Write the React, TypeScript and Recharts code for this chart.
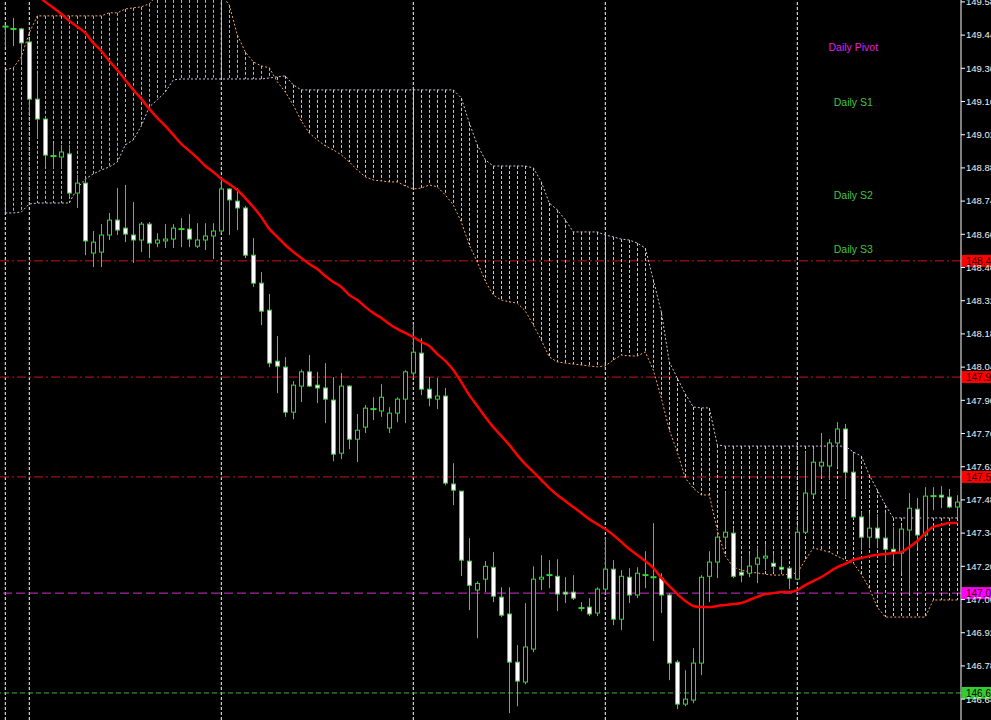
import React from "react";
import { ComposedChart, Bar, Line, XAxis, YAxis, ReferenceLine, ReferenceDot } from "recharts";

// USDJPY-style intraday candles (bar index 0..119)
const opens = [
  149.476, 149.466, 149.466, 149.411, 149.170, 149.086, 148.930, 148.926, 148.939, 148.774,
  148.816, 148.521, 148.525, 148.597, 148.660, 148.626, 148.597, 148.576, 148.643, 148.563,
  148.572, 148.580, 148.620, 148.622, 148.550, 148.576, 148.593, 148.614, 148.791, 148.740,
  148.711, 148.512, 148.394, 148.280, 148.065, 148.040, 147.850, 147.960, 148.020, 147.964,
  147.952, 147.901, 147.677, 147.960, 147.736, 147.787, 147.863, 147.855, 147.783, 147.846,
  147.905, 148.015, 148.099, 147.947, 147.905, 147.918, 147.547, 147.517, 147.222, 147.100,
  147.146, 147.196, 147.070, 146.999, 146.796, 146.712, 146.851, 147.146, 147.158, 147.158,
  147.091, 147.091, 147.024, 147.028, 147.003, 147.104, 147.188, 146.977, 147.154, 147.079,
  147.163, 147.154, 147.150, 147.079, 146.796, 146.619, 146.636, 146.792, 147.158, 147.218,
  147.323, 147.340, 147.175, 147.171, 147.209, 147.235, 147.213, 147.196, 147.192, 147.146,
  147.344, 147.505, 147.623, 147.623, 147.720, 147.779, 147.597, 147.408, 147.323, 147.361,
  147.319, 147.272, 147.256, 147.353, 147.441, 147.332, 147.496, 147.500, 147.492, 147.450,
];
const highs = [
  149.483, 149.512, 149.470, 149.420, 149.280, 149.095, 148.981, 148.977, 148.977, 148.850,
  148.837, 148.614, 148.643, 148.690, 148.795, 148.808, 148.736, 148.652, 148.652, 148.605,
  148.643, 148.643, 148.668, 148.685, 148.647, 148.647, 148.647, 148.833, 148.795, 148.795,
  148.720, 148.584, 148.441, 148.348, 148.171, 148.082, 147.981, 148.030, 148.091, 148.020,
  148.057, 147.998, 148.015, 147.964, 147.842, 147.880, 147.913, 147.968, 147.871, 147.913,
  148.027, 148.221, 148.162, 147.998, 147.994, 147.952, 147.635, 147.517, 147.319, 147.137,
  147.222, 147.260, 147.112, 147.112, 146.868, 147.045, 147.200, 147.247, 147.226, 147.230,
  147.154, 147.163, 147.049, 147.066, 147.112, 147.323, 147.226, 147.184, 147.192, 147.196,
  147.264, 147.382, 147.171, 147.087, 146.805, 146.762, 146.855, 147.163, 147.264, 147.344,
  147.513, 147.361, 147.235, 147.255, 147.281, 147.293, 147.255, 147.238, 147.200, 147.374,
  147.682, 147.694, 147.762, 147.737, 147.808, 147.800, 147.678, 147.429, 147.425, 147.420,
  147.425, 147.365, 147.374, 147.509, 147.488, 147.534, 147.534, 147.538, 147.526, 147.500,
];
const lows = [
  149.390, 149.394, 149.322, 149.110, 149.006, 148.884, 148.880, 148.880, 148.757, 148.711,
  148.512, 148.462, 148.462, 148.576, 148.597, 148.567, 148.479, 148.525, 148.500, 148.546,
  148.542, 148.542, 148.546, 148.546, 148.542, 148.534, 148.496, 148.605, 148.597, 148.618,
  148.500, 148.378, 148.217, 148.040, 147.930, 147.830, 147.820, 147.893, 147.956, 147.888,
  147.804, 147.643, 147.652, 147.694, 147.640, 147.762, 147.817, 147.830, 147.762, 147.808,
  147.804, 147.998, 147.922, 147.875, 147.863, 147.542, 147.458, 147.159, 147.015, 146.897,
  147.091, 147.049, 146.986, 146.581, 146.610, 146.703, 146.838, 147.100, 147.108, 147.011,
  147.045, 147.058, 147.011, 146.990, 146.990, 147.087, 146.952, 146.931, 147.045, 147.066,
  147.108, 146.885, 147.003, 146.720, 146.598, 146.610, 146.623, 146.741, 147.049, 147.150,
  147.281, 147.150, 147.133, 147.154, 147.129, 147.184, 147.175, 147.171, 147.104, 147.142,
  147.340, 147.496, 147.576, 147.564, 147.618, 147.488, 147.403, 147.268, 147.281, 147.281,
  147.213, 147.213, 147.171, 147.087, 147.277, 147.323, 147.437, 147.445, 147.445, 147.403,
];
const closes = [
  149.476, 149.466, 149.407, 149.170, 149.086, 148.934, 148.930, 148.947, 148.774, 148.816,
  148.572, 148.567, 148.597, 148.660, 148.618, 148.601, 148.576, 148.643, 148.563, 148.576,
  148.580, 148.626, 148.622, 148.580, 148.576, 148.593, 148.614, 148.791, 148.745, 148.711,
  148.512, 148.394, 148.276, 148.057, 148.044, 147.850, 147.964, 148.020, 147.960, 147.952,
  147.905, 147.673, 147.960, 147.736, 147.774, 147.867, 147.863, 147.913, 147.846, 147.905,
  148.020, 148.103, 147.947, 147.909, 147.918, 147.551, 147.521, 147.226, 147.120, 147.128,
  147.200, 147.074, 146.994, 146.796, 146.716, 146.860, 147.146, 147.154, 147.163, 147.083,
  147.083, 147.066, 147.024, 146.999, 147.104, 147.188, 146.977, 147.158, 147.079, 147.171,
  147.163, 147.154, 147.079, 146.792, 146.619, 146.640, 146.792, 147.154, 147.218, 147.323,
  147.344, 147.158, 147.163, 147.201, 147.235, 147.243, 147.200, 147.188, 147.150, 147.344,
  147.509, 147.639, 147.639, 147.720, 147.779, 147.597, 147.408, 147.323, 147.361, 147.319,
  147.272, 147.260, 147.357, 147.445, 147.332, 147.496, 147.496, 147.492, 147.450, 147.471,
];

// moving average (red)
const ma = [
  149.715, 149.690, 149.660, 149.635, 149.609, 149.580, 149.555, 149.529, 149.500, 149.475,
  149.449, 149.407, 149.373, 149.331, 149.293, 149.251, 149.209, 149.171, 149.129, 149.091,
  149.057, 149.019, 148.981, 148.952, 148.922, 148.888, 148.863, 148.834, 148.812, 148.787,
  148.753, 148.715, 148.673, 148.623, 148.589, 148.555, 148.526, 148.500, 148.475, 148.454,
  148.424, 148.399, 148.378, 148.344, 148.323, 148.294, 148.268, 148.247, 148.222, 148.201,
  148.184, 148.167, 148.146, 148.129, 148.095, 148.066, 148.028, 147.977, 147.922, 147.876,
  147.830, 147.787, 147.750, 147.712, 147.669, 147.631, 147.598, 147.564, 147.530, 147.501,
  147.475, 147.450, 147.425, 147.399, 147.378, 147.357, 147.332, 147.303, 147.273, 147.248,
  147.222, 147.193, 147.151, 147.117, 147.083, 147.054, 147.033, 147.028, 147.028, 147.033,
  147.037, 147.041, 147.045, 147.058, 147.071, 147.083, 147.087, 147.092, 147.092, 147.100,
  147.121, 147.138, 147.155, 147.176, 147.197, 147.210, 147.227, 147.235, 147.243, 147.248,
  147.252, 147.256, 147.260, 147.281, 147.307, 147.340, 147.366, 147.374, 147.383, 147.383,
];

// ichimoku senkou spans
const spanA = [
  149.293, 149.302, 149.348, 149.449, 149.521, 149.521, 149.521, 149.521, 149.521, 149.521,
  149.521, 149.521, 149.521, 149.534, 149.534, 149.550, 149.555, 149.559, 149.572, 149.609,
  149.673, 149.715, 149.736, 149.736, 149.715, 149.673, 149.631, 149.609, 149.567, 149.441,
  149.369, 149.327, 149.310, 149.302, 149.243, 149.200, 149.145, 149.078, 149.027, 148.998,
  148.973, 148.956, 148.935, 148.905, 148.871, 148.842, 148.829, 148.825, 148.821, 148.821,
  148.804, 148.791, 148.795, 148.808, 148.800, 148.766, 148.724, 148.652, 148.555, 148.483,
  148.403, 148.344, 148.323, 148.315, 148.310, 148.277, 148.218, 148.154, 148.083, 148.062,
  148.057, 148.053, 148.049, 148.045, 148.041, 148.045, 148.070, 148.091, 148.087, 148.087,
  148.104, 148.028, 147.910, 147.775, 147.682, 147.572, 147.530, 147.501, 147.501, 147.353,
  147.243, 147.197, 147.184, 147.176, 147.172, 147.167, 147.163, 147.163, 147.167, 147.172,
  147.227, 147.277, 147.269, 147.260, 147.243, 147.227, 147.214, 147.167, 147.108, 147.028,
  146.986, 146.986, 146.986, 146.986, 146.986, 146.986, 147.058, 147.058, 147.058, 147.058,
];
const spanB = [
  148.690, 148.690, 148.694, 148.728, 148.732, 148.732, 148.732, 148.732, 148.732, 148.795,
  148.833, 148.855, 148.871, 148.884, 148.905, 148.977, 148.998, 149.057, 149.137, 149.167,
  149.200, 149.251, 149.255, 149.255, 149.255, 149.255, 149.255, 149.255, 149.255, 149.255,
  149.255, 149.255, 149.255, 149.259, 149.264, 149.268, 149.230, 149.209, 149.209, 149.209,
  149.209, 149.209, 149.209, 149.209, 149.209, 149.209, 149.209, 149.209, 149.209, 149.209,
  149.209, 149.209, 149.209, 149.209, 149.209, 149.209, 149.209, 149.175, 149.070, 148.977,
  148.914, 148.888, 148.888, 148.888, 148.888, 148.888, 148.880, 148.821, 148.732, 148.703,
  148.661, 148.610, 148.610, 148.610, 148.610, 148.597, 148.589, 148.580, 148.576, 148.563,
  148.542, 148.408, 148.273, 148.062, 147.994, 147.927, 147.872, 147.868, 147.868, 147.712,
  147.707, 147.707, 147.707, 147.707, 147.707, 147.707, 147.707, 147.707, 147.707, 147.707,
  147.707, 147.707, 147.707, 147.707, 147.707, 147.707, 147.682, 147.665, 147.585, 147.522,
  147.459, 147.404, 147.404, 147.404, 147.404, 147.404, 147.404, 147.404, 147.404, 147.404,
];

const priceTicks = [
  149.58, 149.44, 149.3, 149.16, 149.02, 148.88, 148.74, 148.6, 148.46, 148.32, 148.18,
  148.04, 147.9, 147.76, 147.62, 147.48, 147.34, 147.2, 147.06, 146.92, 146.78, 146.64,
];
const gridBars = [0, 3, 27, 51, 75, 99];

// horizontal levels: three resistance lines, pivot line, support line
const levelPrices = [148.488, 147.998, 147.577, 147.087, 146.666];
const pivotNames = ["Daily Pivot", "Daily S1", "Daily S2", "Daily S3"];
const pivotPrices = [149.39, 149.158, 148.766, 148.538];

const GREEN = "#33d633";
const SANDY = "#f4a460";
const THISTLE = "#d8bfd8";

const levelStyles = [
  { stroke: "#c81818", dash: "9 3 2 3", tag: "#ff0000" },
  { stroke: "#c81818", dash: "9 3 2 3", tag: "#ff0000" },
  { stroke: "#c81818", dash: "9 3 2 3", tag: "#ff0000" },
  { stroke: "#cc33cc", dash: "9 4", tag: "#ff00ff" },
  { stroke: "#3cb83c", dash: "5 3", tag: "#33cc33" },
];
const pivotColors = ["#e020e0", "#44c444", "#44c444", "#44c444"];

const rows = opens.map((o, i) => ({
  i,
  open: o,
  high: highs[i],
  low: lows[i],
  close: closes[i],
  ma: ma[i],
  spanA: spanA[i],
  spanB: spanB[i],
  // cloud split by which span is on top
  up: spanA[i] >= spanB[i] ? [spanB[i], spanA[i]] : null,
  down: spanA[i] < spanB[i] ? [spanA[i], spanB[i]] : null,
}));

function Candle(props: any) {
  const { x, y, width, height, index } = props;
  const open = opens[index], high = highs[index], low = lows[index], close = closes[index];
  const c = Math.round(x + width / 2);
  const span = high - low || 1;
  const toY = (p: number) => y + ((high - p) / span) * height;
  const top = Math.min(toY(open), toY(close));
  const bot = Math.max(toY(open), toY(close));
  const bull = close > open;
  return (
    <g>
      <line x1={c + 0.5} x2={c + 0.5} y1={y} y2={y + height} stroke={GREEN} />
      {bot - top < 1.5 ? (
        <line x1={c - 2.5} x2={c + 3.5} y1={top} y2={top} stroke={GREEN} strokeWidth={2} />
      ) : (
        <rect x={c - 1.5} y={top} width={4} height={bot - top} fill={bull ? "#000" : "#ffffff"} stroke={GREEN} />
      )}
    </g>
  );
}

function Hatch(props: any) {
  const { x, y, width, height, hatch } = props;
  if (height == null || isNaN(height)) return null;
  const c = Math.round(x + width / 2) + 0.5;
  return <line x1={c} x2={c} y1={y} y2={y + height} stroke={hatch} strokeDasharray="3 2" />;
}

function LevelTag(props: any) {
  const { viewBox, bg, text } = props;
  if (!viewBox) return null;
  const x = viewBox.x + viewBox.width + 1;
  const y = viewBox.y;
  return (
    <g>
      <rect x={x} y={y - 6} width={48} height={12} fill={bg} />
      <text x={x + 4} y={y + 4} fontSize={10} fill="#200000">
        {text}
      </text>
    </g>
  );
}

export default function App() {
  const xDomain = [-0.6625, 119.4625];
  return (
    <div
      style={{
        position: "fixed",
        left: 0,
        top: 0,
        width: 991,
        height: 720,
        overflow: "hidden",
        background: "#000",
        fontFamily: '"Liberation Sans", Arial, sans-serif',
      }}
    >
      <ComposedChart width={1010} height={720} data={rows} margin={{ top: 0, right: 0, left: 0, bottom: 0 }}>
        <XAxis dataKey="i" type="number" domain={xDomain} allowDataOverflow hide />
        <XAxis xAxisId="c1" dataKey="i" type="number" domain={xDomain} allowDataOverflow hide />
        <XAxis xAxisId="c2" dataKey="i" type="number" domain={xDomain} allowDataOverflow hide />
        <YAxis
          orientation="right"
          type="number"
          width={49}
          domain={[146.552, 149.588]}
          ticks={priceTicks}
          interval={0}
          allowDataOverflow
          tickFormatter={(v: number) => v.toFixed(2)}
          tick={{ fill: "#f0f0f0", fontSize: 9.5 }}
          tickSize={4}
          tickMargin={1}
          axisLine={{ stroke: "#fff" }}
          tickLine={{ stroke: "#fff" }}
        />

        {gridBars.map((b) => (
          <ReferenceLine key={"g" + b} x={b} stroke="#ffffff" strokeDasharray="3 2" zIndex={-20} />
        ))}
        {levelPrices.map((p, k) => (
          <ReferenceLine
            key={"l" + k}
            y={p}
            stroke={levelStyles[k].stroke}
            strokeDasharray={levelStyles[k].dash}
            zIndex={-10}
            label={<LevelTag bg={levelStyles[k].tag} text={p.toFixed(3)} />}
          />
        ))}

        <Bar xAxisId="c1" dataKey="up" barSize={2} shape={<Hatch hatch={SANDY} />} isAnimationActive={false} zIndex={100} />
        <Bar xAxisId="c2" dataKey="down" barSize={2} shape={<Hatch hatch={THISTLE} />} isAnimationActive={false} zIndex={100} />
        <Line dataKey="spanA" stroke={SANDY} strokeDasharray="2 2" strokeWidth={1} dot={false} activeDot={false} isAnimationActive={false} zIndex={150} />
        <Line dataKey="spanB" stroke={THISTLE} strokeDasharray="2 2" strokeWidth={1} dot={false} activeDot={false} isAnimationActive={false} zIndex={150} />

        <Bar dataKey={(d: any) => [d.low, d.high]} barSize={5} shape={<Candle />} isAnimationActive={false} />

        <Line type="monotone" dataKey="ma" stroke="#ff0000" strokeWidth={2.5} dot={false} activeDot={false} isAnimationActive={false} />

        {pivotNames.map((n, k) => (
          <ReferenceDot
            key={n}
            x={106}
            y={pivotPrices[k]}
            r={0}
            fill="none"
            stroke="none"
            label={{ value: n, position: "center", fill: pivotColors[k], fontSize: 10.5 }}
          />
        ))}
      </ComposedChart>
    </div>
  );
}
